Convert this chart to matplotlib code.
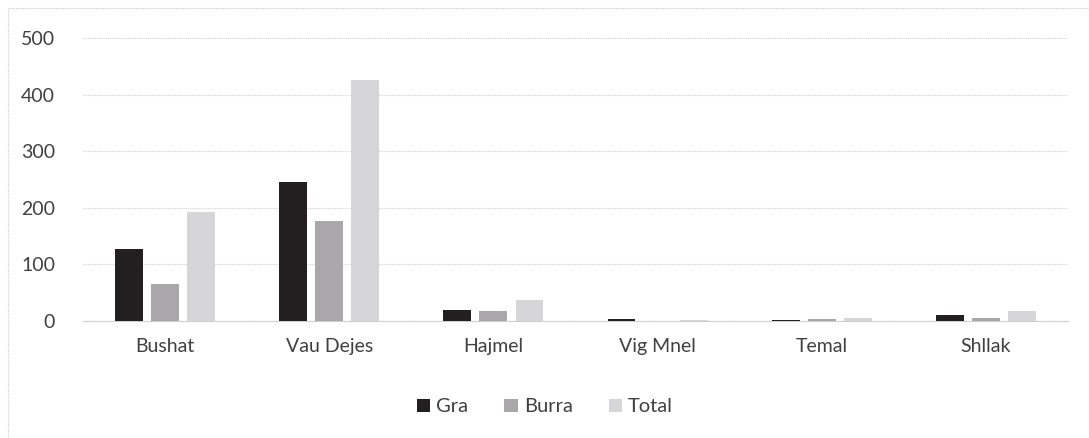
import matplotlib.pyplot as plt
import matplotlib.patches as mpatches
import numpy as np

plt.rcParams['font.family'] = ['Lato', 'DejaVu Sans']

categories = ["Bushat", "Vau Dejes", "Hajmel", "Vig Mnel", "Temal", "Shllak"]
gra = [127, 246, 19, 3, 1, 10]
burra = [66, 177, 17, 0, 3, 6]
total = [193, 425, 37, 1, 5, 17]

series = ["Gra", "Burra", "Total"]
colors = ["#231f20", "#a9a7aa", "#d6d5d8"]

fig = plt.figure(figsize=(10.89, 4.38), dpi=100)
ax = fig.add_axes([83 / 1089, 1 - 321 / 438, 985 / 1089, 283 / 438])

x = np.arange(len(categories))
w = 0.17
offs = [-0.22, 0, 0.22]
for vals, off, c, lab in zip([gra, burra, total], offs, colors, series):
    ax.bar(x + off, vals, width=w, color=c, label=lab, zorder=3)

ax.set_xlim(-0.5, len(categories) - 0.5)
ax.set_ylim(0, 500)
ax.set_yticks(range(0, 501, 100))
ax.set_xticks(x)
ax.set_xticklabels(categories)
ax.tick_params(axis='both', length=0, labelsize=14, colors="#404040")
ax.tick_params(axis='y', pad=20)
ax.tick_params(axis='x', pad=12)
ax.grid(axis='y', color="#d0d0d0", linewidth=0.8, linestyle=(0, (1, 1)), zorder=0)
for s in ["top", "right", "left"]:
    ax.spines[s].set_visible(False)
ax.spines["bottom"].set_color("#d0d0d0")
ax.spines["bottom"].set_linewidth(0.8)

ax.legend(loc="center", bbox_to_anchor=(545 / 1089, 1 - 407 / 438), bbox_transform=fig.transFigure,
          ncol=3, frameon=False, fontsize=14.5, handlelength=0.65, handleheight=0.65,
          handletextpad=0.3, columnspacing=1.8, labelcolor="#404040")

fig.patches.append(mpatches.Rectangle((8 / 1089, -0.01), 1.02, 1 - 8 / 438 + 0.01,
                                      transform=fig.transFigure, fill=False,
                                      edgecolor="#cccccc", linewidth=0.8, linestyle=(0, (1, 1))))

fig.savefig("out.png", dpi=100)
